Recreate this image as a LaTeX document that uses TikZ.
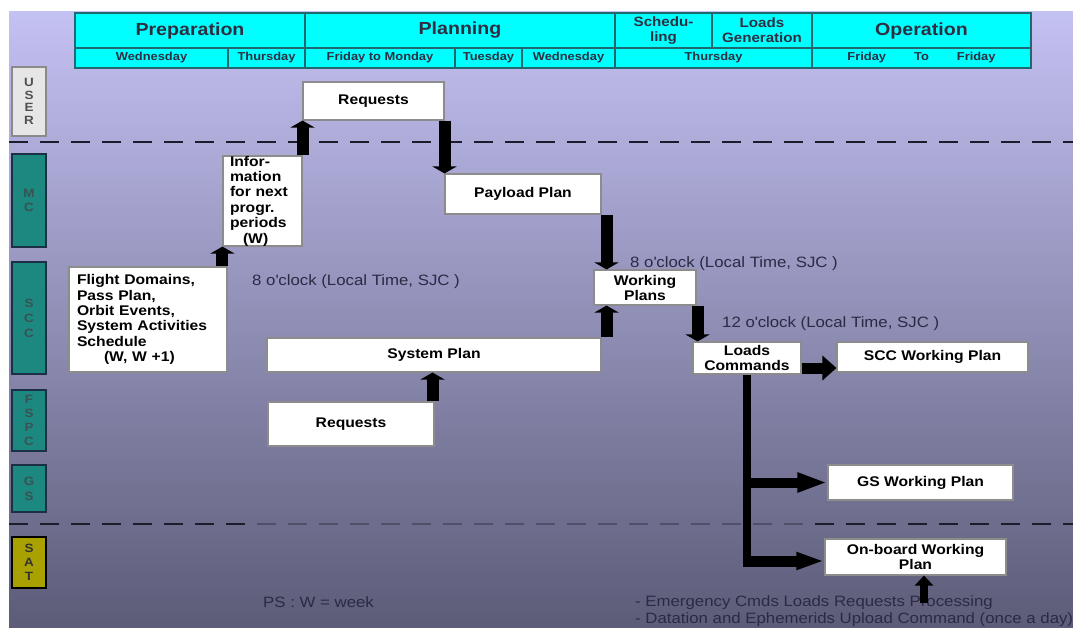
\documentclass[tikz,border=0pt]{standalone}
\usepackage{fontspec}
\setmainfont{Liberation Sans}[FakeStretch=1.12]
\usetikzlibrary{arrows.meta}

\definecolor{hdrfill}{HTML}{00FFFF}
\definecolor{hdrline}{HTML}{1F6A70}
\definecolor{hdrtext}{HTML}{2E2E40}
\definecolor{bgtop}{HTML}{C4C1F3}
\definecolor{bgmid}{HTML}{9A98C9}
\definecolor{bgbot}{HTML}{5C5C78}
\definecolor{laneteal}{HTML}{1C8880}
\definecolor{laneedge}{HTML}{1B2F45}
\definecolor{laneletter}{HTML}{3A5252}
\definecolor{userfill}{HTML}{E6E6E6}
\definecolor{useredge}{HTML}{8A8A8A}
\definecolor{userletter}{HTML}{505050}
\definecolor{satfill}{HTML}{A9A100}
\definecolor{boxedge}{HTML}{8C8C8C}
\definecolor{notetext}{HTML}{2A2A44}
\definecolor{dashdark}{HTML}{1C1C2C}
\definecolor{dashsoft}{HTML}{50506A}

\tikzset{
  hcell/.style={draw=hdrline, line width=1.3pt, fill=hdrfill, inner sep=0pt,
    text=hdrtext, align=center, font=\bfseries\fontsize{17.5}{19}\selectfont},
  hcellsmall/.style={hcell, font=\bfseries\fontsize{13.5}{15}\selectfont},
  dcell/.style={hcell, font=\bfseries\fontsize{11.5}{13}\selectfont},
  lanetag/.style={draw=laneedge, line width=1.2pt, fill=laneteal, inner sep=0pt,
    minimum width=34pt, text=laneletter, align=center,
    font=\bfseries\fontsize{12}{14}\selectfont},
  usertag/.style={lanetag, draw=useredge, fill=userfill, text=userletter,
    font=\bfseries\fontsize{12}{12.5}\selectfont},
  sattag/.style={lanetag, draw=black, fill=satfill, text=black!80},
  plainbox/.style={draw=boxedge, line width=1.1pt, fill=white, inner sep=0pt,
    text=black, align=center, font=\bfseries\fontsize{14}{15}\selectfont},
  leftbox/.style={plainbox, align=left, anchor=center,
    font=\bfseries\fontsize{14}{15.4}\selectfont},
  note/.style={inner sep=0pt, anchor=west, text=notetext,
    font=\fontsize{15}{17}\selectfont},
  lanedash/.style={line width=1.6pt, dash pattern=on 19pt off 12pt},
  vflow/.style={line width=12pt, -{Triangle[width=24pt,length=7pt]}},
  hflow/.style={line width=11pt, -{Triangle[width=24pt,length=14pt]}},
  hlong/.style={line width=10pt, -{Triangle[width=18pt,length=30pt]}},
  trunk/.style={line width=8pt},
  upsmall/.style={line width=8pt, -{Triangle[width=18pt,length=10pt]}}
}

\begin{document}
\begin{tikzpicture}[x=1pt, y=-1pt]
\useasboundingbox (0,0) rectangle (1073,627);
\fill[white] (0,0) rectangle (1073,627);
% slide background
\fill[top color=bgtop, middle color=bgmid, bottom color=bgbot] (9,11) rectangle (1073,627);

% lane separators
\draw[lanedash, dashdark] (9,142) -- (1073,142);
\draw[lanedash, dashdark] (9,524) -- (250,524);
\draw[lanedash, dashsoft, dash phase=24pt] (250,524) -- (810,524);
\draw[lanedash, dashdark, dash phase=26pt] (810,524) -- (1073,524);

% lane tags
\node[usertag, minimum height=69pt] (user) at (29,101.5) {U\\S\\E\\R};
\node[lanetag, minimum height=93pt] (mc) at (29,200.5) {M\\C};
\node[lanetag, minimum height=112pt, font=\bfseries\fontsize{12}{15}\selectfont] (scc) at (29,318) {S\\C\\C};
\node[lanetag, minimum height=61pt] (fspc) at (29,420.5) {F\\S\\P\\C};
\node[lanetag, minimum height=47pt, font=\bfseries\fontsize{12}{15}\selectfont] (gs) at (29,488.5) {G\\S};
\node[sattag, minimum height=51pt] (sat) at (29,562.5) {S\\A\\T};

% phase header: top row
\node[hcell, minimum width=230pt, minimum height=35pt] (prep) at (190,30.5) {Preparation};
\node[hcell, minimum width=310pt, minimum height=35pt] (plan) at (460,30.5) {Planning};
\node[hcellsmall, minimum width=97pt, minimum height=35pt] (sched) at (663.5,30.5) {Schedu-\\ling};
\node[hcellsmall, minimum width=100pt, minimum height=35pt] (loadgen) at (762,30.5) {Loads\\Generation};
\node[hcell, minimum width=219pt, minimum height=35pt] (oper) at (921.5,30.5) {Operation};
% phase header: days row
\node[dcell, minimum width=153pt, minimum height=20pt] (wedA) at (151.5,58) {Wednesday};
\node[dcell, minimum width=77pt, minimum height=20pt] (thuA) at (266.5,58) {Thursday};
\node[dcell, minimum width=150pt, minimum height=20pt] (frimon) at (380,58) {Friday to Monday};
\node[dcell, minimum width=67pt, minimum height=20pt] (tue) at (488.5,58) {Tuesday};
\node[dcell, minimum width=93pt, minimum height=20pt] (wedB) at (568.5,58) {Wednesday};
\node[dcell, minimum width=197pt, minimum height=20pt] (thuB) at (713.5,58) {Thursday};
\node[dcell, minimum width=219pt, minimum height=20pt] (fritofri) at (921.5,58) {Friday\hspace{28pt}To\hspace{28pt}Friday};

% process boxes
\node[plainbox, minimum width=141pt, minimum height=38pt] (reqU) at (373.5,101) {Requests};
\node[leftbox, minimum height=88pt, text width=65pt, inner xsep=7pt] (info) at (262.5,201)
  {Infor-\\mation\\for next\\progr.\\periods\\\hspace*{13pt}(W)};
\node[leftbox, minimum height=105pt, text width=142pt, inner xsep=8pt] (flight) at (148,319.5)
  {Flight Domains,\\Pass Plan,\\Orbit Events,\\System Activities\\Schedule\\\hspace*{27pt}(W, W +1)};
\node[plainbox, minimum width=156pt, minimum height=40pt] (payload) at (523,194) {Payload Plan};
\node[plainbox, minimum width=102pt, minimum height=35pt] (working) at (645,287.5) {Working\\Plans};
\node[plainbox, minimum width=334pt, minimum height=34pt] (system) at (434,355) {System Plan};
\node[plainbox, minimum width=166pt, minimum height=44pt] (reqF) at (351,424) {Requests};
\node[plainbox, minimum width=108pt, minimum height=32pt] (loads) at (747,358) {Loads\\Commands};
\node[plainbox, minimum width=191pt, minimum height=30pt] (sccwp) at (932.5,357) {SCC Working Plan};
\node[plainbox, minimum width=185pt, minimum height=35pt] (gswp) at (920.5,482.5) {GS Working Plan};
\node[plainbox, minimum width=181pt, minimum height=36pt] (obwp) at (915.5,557) {On-board Working\\Plan};

% timing notes
\node[note] (noteA) at (252,282) {8 o\textquotesingle clock (Local Time, SJC )};
\node[note] (noteB) at (630,264) {8 o\textquotesingle clock (Local Time, SJC )};
\node[note] (noteC) at (722,324) {12 o\textquotesingle clock (Local Time, SJC )};
\node[note] (ps) at (263,602) {PS : W = week};
\node[note, align=left, anchor=north west] (extra) at (635,595)
  {- Emergency Cmds Loads Requests Processing\\- Datation and Ephemerids Upload Command (once a day)};

% flow arrows
\draw[vflow] (flight.north -| info.south west) -- (info.south west);
\draw[vflow] (info.north east) -- (info.north east |- reqU.south);
\draw[vflow] (reqU.south east) -- (reqU.south east |- payload.north);
\draw[vflow] ([xshift=5pt]payload.south east) -- ([xshift=5pt]payload.south east |- working.north);
\draw[vflow] ([xshift=5pt]system.north east) -- ([xshift=5pt]system.north east |- working.south);
\draw[vflow] ([xshift=1pt]working.south east) -- ([xshift=1pt]working.south east |- loads.north);
\draw[vflow] ([xshift=-2pt]reqF.north east) -- ([xshift=-2pt]reqF.north east |- system.south);
\draw[hflow] ([yshift=-10pt]loads.east) -- ([yshift=-10pt]loads.east -| sccwp.west);

% distribution of the loads commands
\coordinate (obin) at ([yshift=-4pt]obwp.west);
\coordinate (trunkend) at ([yshift=-4pt]loads.south |- obin);
\draw[trunk] (loads.south) -- (trunkend);
\draw[hlong] (loads.south |- gswp.west) -- (gswp.west);
\draw[hlong, line width=11pt, -{Triangle[width=16pt,length=28pt]}] ([xshift=-4pt]loads.south |- obin) -- (obin);

% external inputs to the on-board plan
\coordinate (extin) at (924,603);
\draw[upsmall] (extin) -- (extin |- obwp.south);
\end{tikzpicture}
\end{document}
